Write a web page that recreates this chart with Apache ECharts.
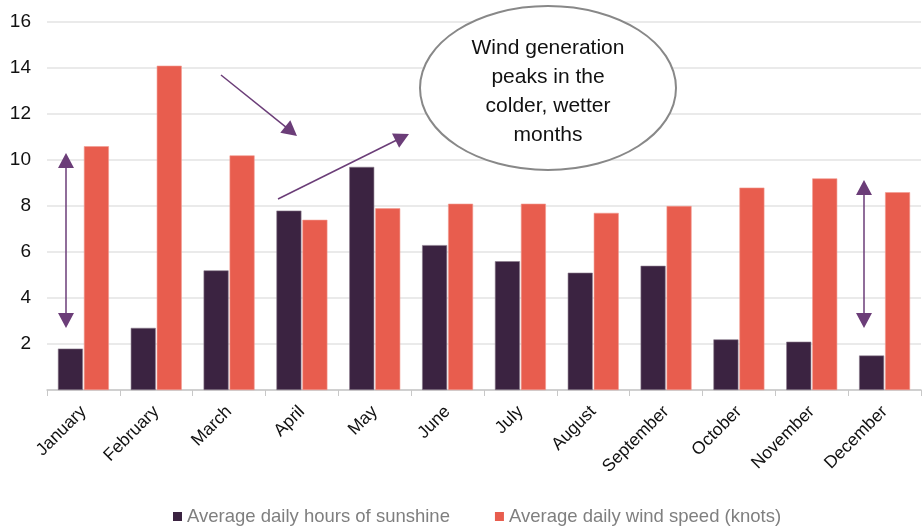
<!DOCTYPE html>
<html>
<head>
<meta charset="utf-8">
<script src="https://cdn.jsdelivr.net/npm/echarts@6/dist/echarts.min.js"></script>
<style>
  html, body { margin: 0; padding: 0; background: #fff; }
  #chart { width: 924px; height: 528px; }
</style>
</head>
<body>
<div id="chart"></div>
<script>
const months = ['January', 'February', 'March', 'April', 'May', 'June',
  'July', 'August', 'September', 'October', 'November', 'December']
const sunshine = [1.8, 2.7, 5.2, 7.8, 9.7, 6.3, 5.6, 5.1, 5.4, 2.2, 2.1, 1.5]
const windSpeed = [10.6, 14.1, 10.2, 7.4, 7.9, 8.1, 8.1, 7.7, 8.0, 8.8, 9.2, 8.6]
const seriesNames = ['Average daily hours of sunshine', 'Average daily wind speed (knots)']
const noteLines = ['Wind generation', 'peaks in the', 'colder, wetter', 'months']

const purple = '#6b3d78'
const font = '"Liberation Sans", Arial, sans-serif'

// arrow = line plus triangular head(s), in pixels
function arrow(x1, y1, x2, y2, both) {
  const out = []
  const ang = Math.atan2(y2 - y1, x2 - x1)
  const len = 15, half = 8
  const head = (tx, ty, a) => {
    const bx = tx - Math.cos(a) * len, by = ty - Math.sin(a) * len
    const px = -Math.sin(a) * half, py = Math.cos(a) * half
    return {
      type: 'polygon',
      shape: { points: [[tx, ty], [bx + px, by + py], [bx - px, by - py]] },
      style: { fill: purple }
    }
  }
  const sx = both ? x1 + Math.cos(ang) * (len - 2) : x1
  const sy = both ? y1 + Math.sin(ang) * (len - 2) : y1
  out.push({
    type: 'line',
    shape: { x1: sx, y1: sy, x2: x2 - Math.cos(ang) * (len - 2), y2: y2 - Math.sin(ang) * (len - 2) },
    style: { stroke: purple, lineWidth: 1.5 }
  })
  out.push(head(x2, y2, ang))
  if (both) out.push(head(x1, y1, ang + Math.PI))
  return out
}

const chart = echarts.init(document.getElementById('chart'))

chart.setOption({
  backgroundColor: '#fff',
  animation: false,
  grid: { left: 47, right: 3, top: 22, bottom: 138 },
  legend: {
    data: seriesNames,
    top: 502,
    left: 168,
    itemWidth: 9,
    itemHeight: 9,
    itemGap: 45,
    icon: 'rect',
    itemStyle: { borderWidth: 0 },
    textStyle: { fontSize: 18.5, color: '#7f7f7f', fontFamily: font }
  },
  xAxis: {
    type: 'category',
    data: months,
    axisLine: { lineStyle: { color: '#c8c8c8', width: 1.5 } },
    axisTick: { show: true, length: 6, lineStyle: { color: '#c8c8c8' } },
    axisLabel: {
      rotate: 45,
      fontSize: 17.5,
      color: '#111',
      fontFamily: font,
      margin: 19,
      interval: 0
    }
  },
  yAxis: {
    type: 'value',
    min: 0,
    max: 16,
    interval: 2,
    axisLine: { show: false },
    axisTick: { show: false },
    splitLine: { lineStyle: { color: '#e3e3e3', width: 1.5 } },
    axisLabel: {
      fontSize: 19,
      color: '#111',
      fontFamily: font,
      margin: 16,
      showMinLabel: false
    }
  },
  series: [
    {
      name: seriesNames[0],
      type: 'bar',
      data: sunshine,
      barGap: '4%',
      barCategoryGap: '30%',
      itemStyle: { color: '#3b2341', borderColor: '#8a7a8c', borderWidth: 0.6 }
    },
    {
      name: seriesNames[1],
      type: 'bar',
      data: windSpeed,
      itemStyle: { color: '#e85d4e', borderColor: '#f29a90', borderWidth: 0.6 }
    }
  ],
  graphic: [
    {
      type: 'ellipse',
      shape: { cx: 548, cy: 88, rx: 128, ry: 82 },
      style: { fill: '#fff', stroke: '#888', lineWidth: 2 }
    },
    {
      type: 'text',
      x: 548,
      y: 92,
      z: 11,
      style: {
        text: noteLines.join('\n'),
        fill: '#111',
        font: '21px ' + font,
        lineHeight: 29,
        align: 'center',
        verticalAlign: 'middle'
      }
    },
    ...arrow(221, 75, 297, 136, false),
    ...arrow(278, 199, 409, 134, false),
    ...arrow(66, 153, 66, 328, true),
    ...arrow(864, 180, 864, 328, true)
  ].map(g => Object.assign({ z: 10 }, g))
})
</script>
</body>
</html>
